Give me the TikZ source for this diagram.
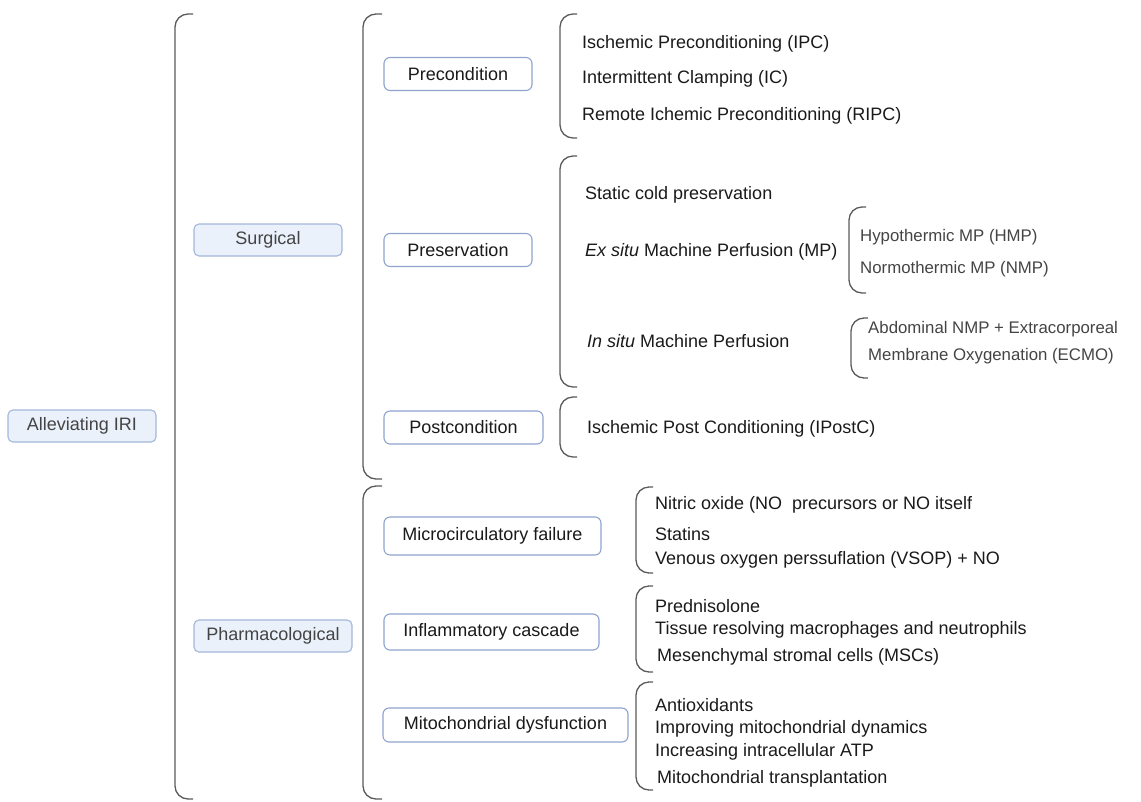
\documentclass[tikz,border=0pt]{standalone}
\usepackage{fontspec}
\setmainfont{Liberation Sans}
\definecolor{brkc}{HTML}{5A5A5A}
\definecolor{bfill}{HTML}{EAF1FB}
\definecolor{bline}{HTML}{A3B7DC}
\definecolor{wline}{HTML}{8FA3CF}
\definecolor{txtc}{HTML}{1A1A1A}
\definecolor{gtxt}{HTML}{444444}
\tikzset{
  brk/.style={draw=brkc, line width=1.3pt, rounded corners=13pt},
  topbox/.style={draw=bline, fill=bfill, line width=1.1pt, rounded corners=5pt, text=gtxt, minimum height=32pt, inner sep=0pt},
  subbox/.style={draw=wline, fill=white, line width=1.1pt, rounded corners=6pt, text=txtc, minimum height=33pt, inner sep=0pt},
  item/.style={anchor=west, inner sep=0pt, text=txtc, yshift=-2pt},
  gitem/.style={anchor=west, inner sep=0pt, text=gtxt, align=left, yshift=-2pt, font=\fontsize{16.8}{27}\selectfont},
}
\newcommand{\mybrk}[4]{\draw[brk] (#1+#4,#2) -- (#1,#2) -- (#1,#3) -- (#1+#4,#3);}
\begin{document}
\begin{tikzpicture}[x=1pt,y=-1pt,font=\fontsize{18}{21}\selectfont]
\useasboundingbox (0,0) rectangle (1141,801);
% brackets
\mybrk{175}{14}{799}{18}
\mybrk{363}{14}{479}{19}
\mybrk{363}{486}{799}{19}
\mybrk{560}{14}{138}{17}
\mybrk{560}{156}{387}{17}
\mybrk{560}{397}{457}{17}
\mybrk{849}{207}{293}{17}
\mybrk{851}{318}{378}{17}
\mybrk{636}{487}{573}{17}
\mybrk{636}{586}{672}{17}
\mybrk{636}{682}{790}{17}
% level 1/2 boxes
\node[topbox, minimum width=148pt] (iri) at (82,426) {Alleviating IRI};
\node[topbox, minimum width=148pt] (surg) at (268,240) {Surgical};
\node[topbox, minimum width=158pt] (pharm) at (273,636) {Pharmacological};
% level 3 boxes
\node[subbox, minimum width=148pt] (pre) at (458,74) {Precondition};
\node[subbox, minimum width=148pt] (pres) at (458,250) {Preservation};
\node[subbox, minimum width=159pt] (post) at (463.5,427.5) {Postcondition};
\node[subbox, minimum width=217pt, minimum height=38pt] (micro) at (492.5,536) {Microcirculatory failure};
\node[subbox, minimum width=215pt, minimum height=36pt] (infl) at (491.5,632) {Inflammatory cascade};
\node[subbox, minimum width=245pt, minimum height=34pt] (mito) at (505.5,725) {Mitochondrial dysfunction};
% precondition items
\node[item] (ipc) at (582,42) {Ischemic Preconditioning (IPC)};
\node[item] (ic) at (582,77) {Intermittent Clamping (IC)};
\node[item] (ripc) at (582,114) {Remote Ichemic Preconditioning (RIPC)};
% preservation items
\node[item] (scp) at (585,193) {Static cold preservation};
\node[item] (exsitu) at (585,250) {\textit{Ex situ} Machine Perfusion (MP)};
\node[item] (insitu) at (587,339) {\textit{In situ} Machine Perfusion};
\node[gitem] (hmp) at (860,235) {Hypothermic MP (HMP)};
\node[gitem] (nmp) at (860,267) {Normothermic MP (NMP)};
\node[gitem] (ecmo) at (868,341) {Abdominal NMP + Extracorporeal\\Membrane Oxygenation (ECMO)};
% postcondition item
\node[item] (ipostc) at (587,427) {Ischemic Post Conditioning (IPostC)};
% pharmacological items
\node[item] (no) at (655,503) {Nitric oxide (NO\ \ precursors or NO itself};
\node[item] (stat) at (655,532) {Statins};
\node[item] (vsop) at (655,558) {Venous oxygen perssuflation (VSOP) + NO};
\node[item] (pred) at (655,604) {Prednisolone};
\node[item] (tiss) at (655,628) {Tissue resolving macrophages and neutrophils};
\node[item] (msc) at (657,655) {Mesenchymal stromal cells (MSCs)};
\node[item] (anti) at (655,703) {Antioxidants};
\node[item] (impr) at (655,727) {Improving mitochondrial dynamics};
\node[item] (atp) at (655,750) {Increasing intracellular ATP};
\node[item] (mtx) at (657,777) {Mitochondrial transplantation};
\end{tikzpicture}
\end{document}
